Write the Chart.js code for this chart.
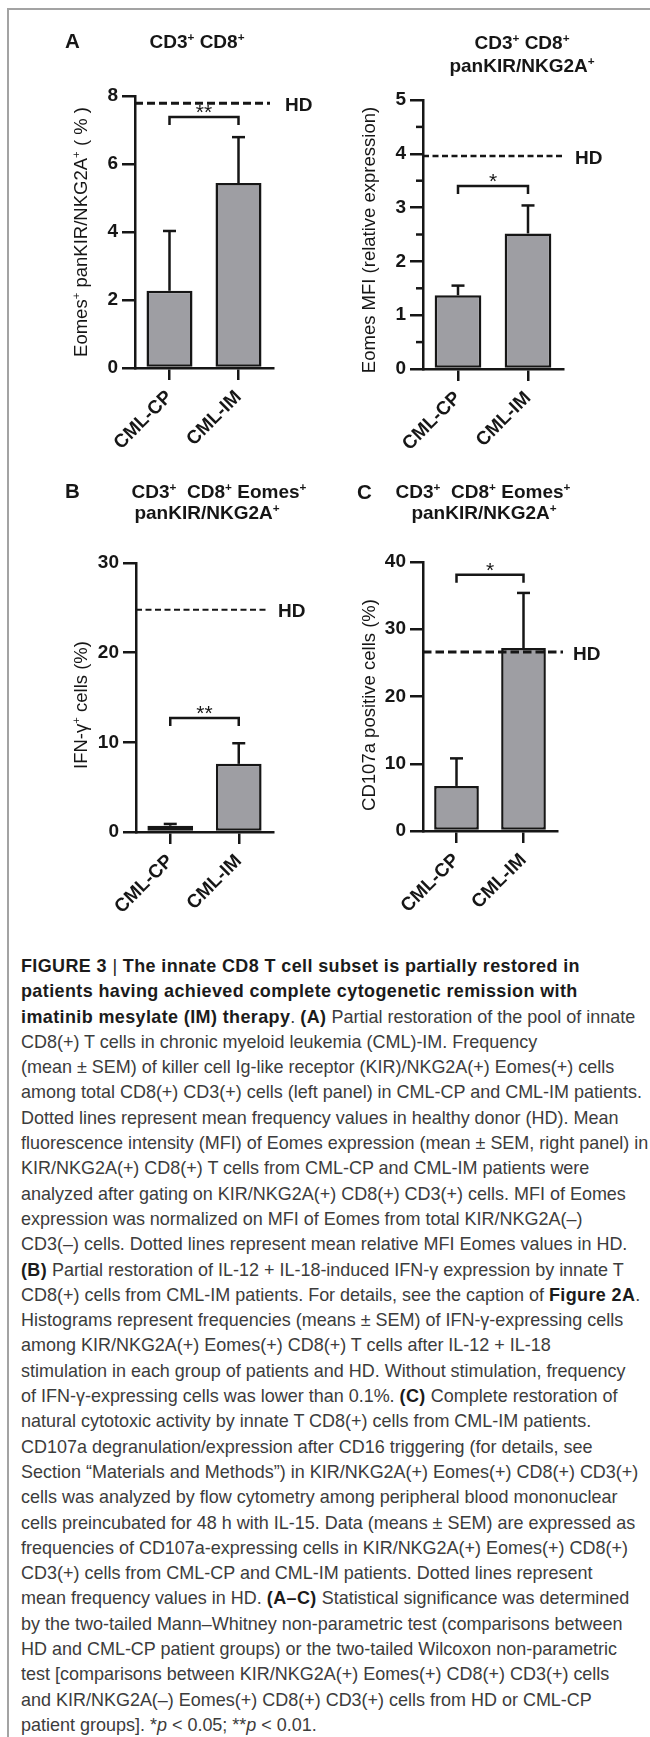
<!DOCTYPE html>
<html><head><meta charset="utf-8">
<script src="https://cdn.jsdelivr.net/npm/chart.js@4.4.1/dist/chart.umd.min.js"></script>
<style>
html,body{margin:0;padding:0;background:#fff;}
body{width:650px;height:1737px;position:relative;overflow:hidden;}
canvas.panel{position:absolute;left:0;top:0;}
#frameL{position:absolute;left:7px;top:8px;width:1.5px;bottom:0;background:#a3a3a3}
#frameT{position:absolute;left:7px;top:8px;right:0;height:1.5px;background:#a3a3a3}
#caption{position:absolute;left:21px;top:953px;font-family:"Liberation Sans",Arial,sans-serif;font-size:18.5px;line-height:25.3px;color:#3c3c3c;white-space:nowrap;transform-origin:0 0;}
#caption div{display:block;width:max-content;}
#caption b{color:#1b1b1b;letter-spacing:0.4px}
</style></head><body>
<div id="frameL"></div><div id="frameT"></div>
<div id="caption">
<div><b>FIGURE 3 <span style="font-weight:normal">|</span> The innate CD8 T cell subset is partially restored in</b></div>
<div><b>patients having achieved complete cytogenetic remission with</b></div>
<div><b>imatinib mesylate (IM) therapy</b>. <b>(A)</b> Partial restoration of the pool of innate</div>
<div>CD8(+) T cells in chronic myeloid leukemia (CML)-IM. Frequency</div>
<div>(mean ± SEM) of killer cell Ig-like receptor (KIR)/NKG2A(+) Eomes(+) cells</div>
<div id="refLine">among total CD8(+) CD3(+) cells (left panel) in CML-CP and CML-IM patients.</div>
<div>Dotted lines represent mean frequency values in healthy donor (HD). Mean</div>
<div>fluorescence intensity (MFI) of Eomes expression (mean ± SEM, right panel) in</div>
<div>KIR/NKG2A(+) CD8(+) T cells from CML-CP and CML-IM patients were</div>
<div>analyzed after gating on KIR/NKG2A(+) CD8(+) CD3(+) cells. MFI of Eomes</div>
<div>expression was normalized on MFI of Eomes from total KIR/NKG2A(–)</div>
<div>CD3(–) cells. Dotted lines represent mean relative MFI Eomes values in HD.</div>
<div><b>(B)</b> Partial restoration of IL-12 + IL-18-induced IFN-γ expression by innate T</div>
<div>CD8(+) cells from CML-IM patients. For details, see the caption of <b>Figure 2A</b>.</div>
<div>Histograms represent frequencies (means ± SEM) of IFN-γ-expressing cells</div>
<div>among KIR/NKG2A(+) Eomes(+) CD8(+) T cells after IL-12 + IL-18</div>
<div>stimulation in each group of patients and HD. Without stimulation, frequency</div>
<div>of IFN-γ-expressing cells was lower than 0.1%. <b>(C)</b> Complete restoration of</div>
<div>natural cytotoxic activity by innate T CD8(+) cells from CML-IM patients.</div>
<div>CD107a degranulation/expression after CD16 triggering (for details, see</div>
<div>Section “Materials and Methods”) in KIR/NKG2A(+) Eomes(+) CD8(+) CD3(+)</div>
<div>cells was analyzed by flow cytometry among peripheral blood mononuclear</div>
<div>cells preincubated for 48 h with IL-15. Data (means ± SEM) are expressed as</div>
<div>frequencies of CD107a-expressing cells in KIR/NKG2A(+) Eomes(+) CD8(+)</div>
<div>CD3(+) cells from CML-CP and CML-IM patients. Dotted lines represent</div>
<div>mean frequency values in HD. <b>(A–C)</b> Statistical significance was determined</div>
<div>by the two-tailed Mann–Whitney non-parametric test (comparisons between</div>
<div>HD and CML-CP patient groups) or the two-tailed Wilcoxon non-parametric</div>
<div>test [comparisons between KIR/NKG2A(+) Eomes(+) CD8(+) CD3(+) cells</div>
<div>and KIR/NKG2A(–) Eomes(+) CD8(+) CD3(+) cells from HD or CML-CP</div>
<div>patient groups]. *<i>p</i> &lt; 0.05; **<i>p</i> &lt; 0.01.</div>
</div>
<script>
// ---------- data ----------
const categories = ['CML-CP', 'CML-IM'];

const meanA1 = [2.27, 5.44];
const semA1 = [1.76, 1.35];
const hdA1 = 7.79;
const ticksA1 = [0, 2, 4, 6, 8];

const meanA2 = [1.37, 2.52];
const semA2 = [0.18, 0.52];
const hdA2 = 3.96;
const ticksA2 = [0, 1, 2, 3, 4, 5];
const minorTicksA2 = [0.5, 1.5, 2.5, 3.5, 4.5];

const meanB = [0.7, 7.6];
const semB = [0.2, 2.3];
const hdB = 24.8;
const ticksB = [0, 10, 20, 30];

const meanC = [6.7, 27.2];
const semC = [4.1, 8.2];
const hdC = 26.6;
const ticksC = [0, 10, 20, 30, 40];

const sigLabels = ['**', '*', '**', '*'];
const sigLevels = [7.38, 3.40, 12.7, 38.1];

// ---------- caption fit (condensed look) ----------
(function () {
  const cap = document.getElementById('caption');
  const w = document.getElementById('refLine').getBoundingClientRect().width;
  const s = 621 / w;
  cap.style.transform = `scaleX(${s})`;
})();

// ---------- style ----------
const FONT = "'Liberation Sans', Arial, Helvetica, sans-serif";
const INK = '#161616';
const BAR = 'rgb(158,158,163)';
Chart.defaults.font.family = FONT;

function parseRich(str) {
  const segs = []; let buf = '';
  for (let i = 0; i < str.length; i++) {
    if (str[i] === '^') { if (buf) segs.push({t: buf}); buf = ''; segs.push({t: str[i + 1], sup: true}); i++; }
    else buf += str[i];
  }
  if (buf) segs.push({t: buf});
  return segs;
}
function drawRich(ctx, str, x, cy, size, weight, align) {
  const segs = parseRich(str);
  const f = s => `${weight} ${s}px ${FONT}`;
  let total = 0;
  segs.forEach(s => { ctx.font = f(s.sup ? size * 0.62 : size); s.w = ctx.measureText(s.t).width; total += s.w; });
  let cx = align === 'center' ? x - total / 2 : (align === 'left' ? x : x - total);
  const base = cy + size * 0.36;
  ctx.textAlign = 'left'; ctx.textBaseline = 'alphabetic';
  segs.forEach(s => {
    ctx.font = f(s.sup ? size * 0.62 : size);
    ctx.fillText(s.t, cx, s.sup ? base - size * 0.36 : base);
    cx += s.w;
  });
}

function overlay(cfg) {
  return {
    id: 'overlay',
    afterDraw(chart) {
      const ctx = chart.ctx, ys = chart.scales.y, ca = chart.chartArea;
      const meta = chart.getDatasetMeta(0);
      ctx.save();
      ctx.strokeStyle = INK; ctx.fillStyle = INK; ctx.lineWidth = 2.5; ctx.lineCap = 'butt';
      const seg = (x1, y1, x2, y2) => { ctx.beginPath(); ctx.moveTo(x1, y1); ctx.lineTo(x2, y2); ctx.stroke(); };
      // error bars
      meta.data.forEach((bar, i) => {
        const yb = ys.getPixelForValue(cfg.mean[i]);
        const yt = ys.getPixelForValue(cfg.mean[i] + cfg.sem[i]);
        seg(bar.x, yb, bar.x, yt);
        seg(bar.x - 6.5, yt, bar.x + 6.5, yt);
      });
      // minor ticks
      (cfg.minor || []).forEach(v => { const y = ys.getPixelForValue(v); seg(ca.left - 7, y, ca.left, y); });
      // HD line
      const yh = ys.getPixelForValue(cfg.hd);
      ctx.setLineDash(cfg.dash); ctx.lineWidth = cfg.dashW;
      seg(ca.left, yh, cfg.hdEnd, yh);
      ctx.setLineDash([]); ctx.lineWidth = 2.5;
      drawRich(ctx, 'HD', cfg.hdLabelX, yh + 1, 19, 'bold', 'left');
      // significance bracket
      const yB = ys.getPixelForValue(cfg.sigLevel);
      const x1 = meta.data[0].x, x2 = meta.data[1].x;
      ctx.beginPath(); ctx.moveTo(x1, yB + 8); ctx.lineTo(x1, yB); ctx.lineTo(x2, yB); ctx.lineTo(x2, yB + 8); ctx.stroke();
      ctx.font = `normal 21px ${FONT}`; ctx.textAlign = 'center'; ctx.textBaseline = 'alphabetic';
      ctx.fillText(cfg.sig, (x1 + x2) / 2, yB - 10 + 21 * 0.57);
      // y title
      ctx.save(); ctx.translate(cfg.yTitle[1], cfg.yTitle[2]); ctx.rotate(-Math.PI / 2);
      drawRich(ctx, cfg.yTitle[0], 0, 0, 18.5, 'normal', 'center');
      ctx.restore();
      // panel letter and titles
      if (cfg.letter) drawRich(ctx, cfg.letter[0], cfg.letter[1], cfg.letter[2], 20.5, 'bold', 'left');
      cfg.titles.forEach(t => drawRich(ctx, t[0], t[1], t[2], 19, 'bold', 'center'));
      ctx.restore();
    }
  };
}

function makePanel(cfg) {
  const cv = document.createElement('canvas');
  cv.width = 650; cv.height = 940; cv.className = 'panel';
  document.body.appendChild(cv);
  const g = cfg.geo, W = 60, H = 100;
  new Chart(cv, {
    type: 'bar',
    data: {labels: categories, datasets: [{data: cfg.mean, backgroundColor: BAR, borderColor: INK, borderWidth: 2.5, borderSkipped: false, barPercentage: 0.667, categoryPercentage: 1}]},
    options: {
      responsive: false, animation: false, devicePixelRatio: 1,
      layout: {padding: {left: g.left - W, right: 650 - g.right, top: g.top, bottom: 940 - g.bottom - H}},
      plugins: {legend: {display: false}, tooltip: {enabled: false}},
      scales: {
        x: {
          afterFit: s => { s.height = H; },
          grid: {drawOnChartArea: false, drawTicks: true, tickLength: 12, offset: false, lineWidth: 2.5, color: INK},
          border: {display: true, width: 2.5, color: INK},
          ticks: {minRotation: 45, maxRotation: 45, autoSkip: false, color: INK, padding: 6, font: {weight: 'bold', size: 19}}
        },
        y: {
          min: 0, max: cfg.ticks[cfg.ticks.length - 1],
          afterFit: s => { s.width = W; },
          afterBuildTicks: s => { s.ticks = cfg.ticks.map(v => ({value: v})); },
          grid: {drawOnChartArea: false, drawTicks: true, tickLength: 13, lineWidth: 2.5, color: INK},
          border: {display: true, width: 2.5, color: INK},
          ticks: {color: INK, padding: 4, font: {weight: 'bold', size: 19}}
        }
      }
    },
    plugins: [overlay(cfg)]
  });
}

makePanel({
  mean: meanA1, sem: semA1, hd: hdA1, ticks: ticksA1, sig: sigLabels[0], sigLevel: sigLevels[0],
  geo: {left: 135, right: 273, top: 96, bottom: 368},
  dash: [8, 4], dashW: 3, hdEnd: 270, hdLabelX: 285,
  yTitle: ['Eomes^+ panKIR/NKG2A^+ ( % )', 80, 232],
  letter: ['A', 65, 41], titles: [['CD3^+ CD8^+', 197, 41]]
});
makePanel({
  mean: meanA2, sem: semA2, hd: hdA2, ticks: ticksA2, minor: minorTicksA2, sig: sigLabels[1], sigLevel: sigLevels[1],
  geo: {left: 423, right: 563, top: 100, bottom: 369},
  dash: [6, 3.5], dashW: 2.5, hdEnd: 563, hdLabelX: 575,
  yTitle: ['Eomes MFI (relative expression)', 368, 240],
  letter: null, titles: [['CD3^+ CD8^+', 522, 42], ['panKIR/NKG2A^+', 522, 65]]
});
makePanel({
  mean: meanB, sem: semB, hd: hdB, ticks: ticksB, sig: sigLabels[2], sigLevel: sigLevels[2],
  geo: {left: 136, right: 273, top: 563, bottom: 832},
  dash: [6, 3.5], dashW: 2, hdEnd: 267, hdLabelX: 278,
  yTitle: ['IFN-γ^+ cells (%)', 80, 705],
  letter: ['B', 65, 491], titles: [['CD3^+  CD8^+ Eomes^+', 219, 491], ['panKIR/NKG2A^+', 207, 512]]
});
makePanel({
  mean: meanC, sem: semC, hd: hdC, ticks: ticksC, sig: sigLabels[3], sigLevel: sigLevels[3],
  geo: {left: 423, right: 557, top: 562, bottom: 831},
  dash: [8.5, 4], dashW: 3, hdEnd: 563, hdLabelX: 573,
  yTitle: ['CD107a positive cells (%)', 368, 705],
  letter: ['C', 357, 492], titles: [['CD3^+  CD8^+ Eomes^+', 483, 491], ['panKIR/NKG2A^+', 484, 512]]
});
</script>
</body></html>
